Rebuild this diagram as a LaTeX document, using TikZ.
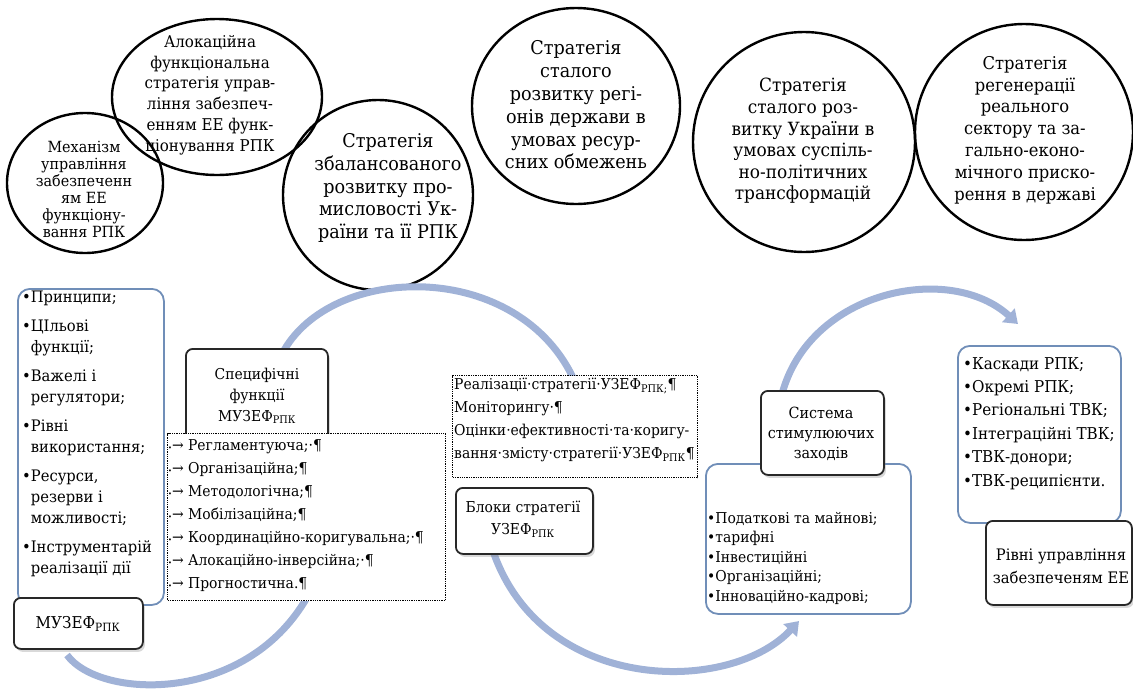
\documentclass[tikz,border=0pt]{standalone}
\usepackage{fontspec}
\setmainfont{DejaVu Serif}[Scale=0.88,FakeStretch=0.93]
\usetikzlibrary{shapes.geometric,arrows.meta,shadows}
\definecolor{arcblue}{RGB}{160,178,215}
\definecolor{boxblue}{RGB}{112,142,184}
\definecolor{boxdark}{RGB}{40,40,40}
\newcommand{\fs}[2]{\fontsize{#1}{#2}\selectfont}
\newcommand{\smb}{{\fs{8}{8}•}}
\begin{document}
\begin{tikzpicture}[x=1pt,y=-1pt,
  oval/.style={draw=black,line width=2.4pt,ellipse,inner sep=0pt},
  ovtext/.style={align=center,inner sep=0pt,text=black},
  listbox/.style={draw=boxblue,line width=1.8pt,rounded corners=12pt,fill=white,inner sep=0pt},
  darkbox/.style={draw=boxdark,line width=1.8pt,rounded corners=7pt,fill=white,inner sep=0pt,
     drop shadow={shadow xshift=2pt,shadow yshift=-3pt,opacity=0.3}},
  dotbox/.style={draw=black,line width=1.3pt,densely dotted,fill=white,inner sep=0pt},
  boxtext/.style={inner sep=0pt,text=black},
  arcline/.style={draw=arcblue,line width=7pt},
  arctip/.style={arcline,-{Triangle[width=18pt,length=13pt]}}
]
\useasboundingbox (0,0) rectangle (1133,694);

% ---------- top ovals ----------
\node[oval,minimum width=156pt,minimum height=140pt] (c1) at (85,183) {};
\node[oval,minimum width=210pt,minimum height=156pt] (c2) at (217,97) {};
\node[oval,minimum width=190pt,minimum height=190pt] (c3) at (378,195) {};
\node[oval,minimum width=208pt,minimum height=196pt] (c4) at (576,106) {};
\node[oval,minimum width=222pt,minimum height=220pt] (c5) at (804,142) {};
\node[oval,minimum width=218pt,minimum height=216pt] (c6) at (1024,132) {};

\node[ovtext,font=\fs{17.5}{17}] (t1) at (84,189) {Механізм\\управління\\забезпеченн\\ям ЕЕ\\функціону-\\вання РПК};
\node[ovtext,font=\fs{18.4}{20.8}] (t2) at (210,95) {Алокаційна\\функціональна\\стратегія управ-\\ління забезпеч-\\енням ЕЕ функ-\\ціонування РПК};
\node[ovtext,font=\fs{21.5}{22.6}] (t3) at (388,188) {Стратегія\\збалансованого\\розвитку про-\\мисловості Ук-\\раїни та її РПК};
\node[ovtext,font=\fs{21.5}{22.8}] (t4) at (576,105) {Стратегія\\сталого\\розвитку регі-\\онів держави в\\умовах ресур-\\сних обмежень};
\node[ovtext,font=\fs{20.7}{21.6}] (t5) at (803,141) {Стратегія\\сталого роз-\\витку України в\\умовах суспіль-\\но-політичних\\трансформацій};
\node[ovtext,font=\fs{20}{21.8}] (t6) at (1025,130) {Стратегія\\регенерації\\реального\\сектору та за-\\гально-еконо-\\мічного приско-\\рення в державі};

% ---------- arc arrows (behind boxes) ----------
\coordinate (a1s) at (67,655);
\coordinate (a1e) at (310,592);
\coordinate (a2s) at (282,354);
\coordinate (a2e) at (575,382);
\coordinate (a3s) at (492,548);
\coordinate (a3e) at (799,621);
\coordinate (a4s) at (782,394);
\coordinate (a4e) at (1018,324);
\draw[arcline] (a1s) .. controls (100,700) and (250,705) .. (a1e);
\draw[arcline] (a2s) .. controls (330,262) and (520,258) .. (a2e);
\draw[arctip] (a3s) .. controls (540,695) and (730,695) .. (a3e);
\draw[arctip] (a4s) .. controls (810,290) and (950,262) .. (a4e);

% ---------- left block ----------
\node[listbox,anchor=north west,minimum width=146pt,minimum height=316pt] (lbox) at (17,288) {};
\node[boxtext,anchor=north west,align=left,font=\fs{18}{21}] (ltext) at (22,291)
 {•Принципи;\\[8pt]
  •ЦІльові\\\phantom{•}функції;\\[8pt]
  •Важелі і\\\phantom{•}регулятори;\\[8pt]
  •Рівні\\\phantom{•}використання;\\[8pt]
  •Ресурси,\\\phantom{•}резерви і\\\phantom{•}можливості;\\[8pt]
  •Інструментарій\\\phantom{•}реалізації дії};
\node[darkbox,anchor=north west,minimum width=129pt,minimum height=51pt] (muzef) at (13,597) {};
\node[boxtext,font=\fs{18.5}{20}] (muzeft) at (78,624) {МУЗЕФ\textsubscript{РПК}};

% ---------- specific functions ----------
\node[darkbox,anchor=north west,minimum width=142pt,minimum height=92pt] (spec) at (185,348) {};
\node[boxtext,align=center,font=\fs{17}{21}] (spect) at (257,396) {Специфічні\\функції\\МУЗЕФ\textsubscript{РПК}};
\node[dotbox,anchor=north west,minimum width=278pt,minimum height=167pt] (funcs) at (167,433) {};
\node[boxtext,anchor=north west,align=left,font=\fs{17}{23}] (funcst) at (168,439)
 {\smb→ Регламентуюча;·¶\\
  \smb→ Організаційна;¶\\
  \smb→ Методологічна;¶\\
  \smb→ Мобілізаційна;¶\\
  \smb→ Координаційно-коригувальна;·¶\\
  \smb→ Алокаційно-інверсійна;·¶\\
  \smb→ Прогностична.¶};

% ---------- strategy blocks ----------
\node[dotbox,anchor=north west,minimum width=245pt,minimum height=102pt] (impl) at (452,375) {};
\node[boxtext,anchor=north west,align=left,font=\fs{17}{23}] (implt) at (454,378)
 {Реалізації·стратегії·УЗЕФ\textsubscript{РПК;}¶\\
  Моніторингу·¶\\
  Оцінки·ефективності·та·коригу-\\
  вання·змісту·стратегії·УЗЕФ\textsubscript{РПК}¶};
\node[darkbox,anchor=north west,minimum width=137pt,minimum height=66pt] (blocks) at (455,487) {};
\node[boxtext,align=center,font=\fs{17}{22}] (blockst) at (523,519) {Блоки стратегії\\УЗЕФ\textsubscript{РПК}};

% ---------- stimulating measures ----------
\node[listbox,anchor=north west,minimum width=205pt,minimum height=150pt] (stim) at (705,463) {};
\node[boxtext,anchor=north west,align=left,font=\fs{17}{19.5}] (stimt) at (707,512)
 {•Податкові та майнові;\\
  •тарифні\\
  •Інвестиційні\\
  •Організаційні;\\
  •Інноваційно-кадрові;};
\node[darkbox,anchor=north west,minimum width=123pt,minimum height=84pt] (sys) at (760,390) {};
\node[boxtext,align=center,font=\fs{17.5}{20}] (syst) at (821,434) {Система\\стимулюючих\\заходів};

% ---------- management levels ----------
\node[listbox,anchor=north west,minimum width=163pt,minimum height=177pt] (levels) at (957,345) {};
\node[boxtext,anchor=north west,align=left,font=\fs{18.5}{23.4}] (levelst) at (963,357)
 {•Каскади РПК;\\
  •Окремі РПК;\\
  •Регіональні ТВК;\\
  •Інтеграційні ТВК;\\
  •ТВК-донори;\\
  •ТВК-реципієнти.};
\node[darkbox,anchor=north west,minimum width=146pt,minimum height=84pt] (rivni) at (985,520) {};
\node[boxtext,align=center,font=\fs{18}{23}] (rivnit) at (1061,566) {Рівні управління\\забезпеченям ЕЕ};
\end{tikzpicture}
\end{document}
